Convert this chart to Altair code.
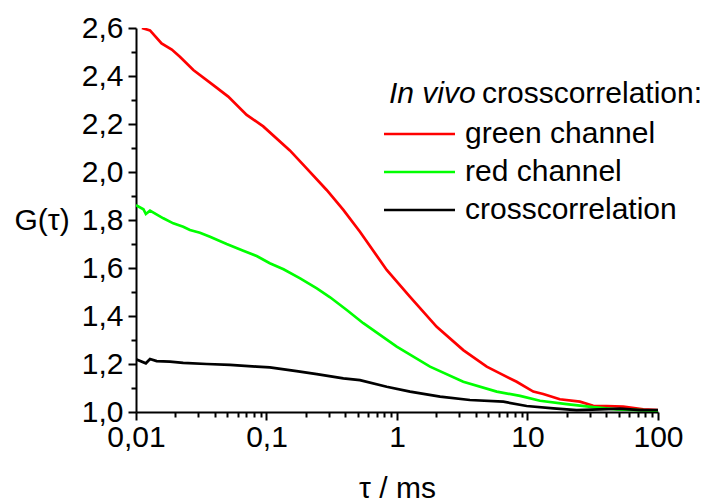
import altair as alt
import pandas as pd

# ---- data (tau in ms, G(tau)) ----
green_ch_tau = [0.0111, 0.0128, 0.0157, 0.0188, 0.0217, 0.0275, 0.0391, 0.0509, 0.0705, 0.0944,
                0.151, 0.203, 0.289, 0.388, 0.520, 0.834, 1.259, 2.015, 3.22, 4.87, 6.15,
                8.26, 11.07, 13.2, 17.7, 25.2, 31.9, 40.4, 54.2, 77.1, 100.0]
green_ch_g = [2.600, 2.590, 2.536, 2.510, 2.480, 2.425, 2.362, 2.314, 2.238, 2.190,
              2.090, 2.015, 1.925, 1.842, 1.751, 1.592, 1.480, 1.355, 1.258, 1.189, 1.161,
              1.126, 1.085, 1.075, 1.053, 1.043, 1.026, 1.025, 1.022, 1.011, 1.008]

red_ch_tau = [0.0100, 0.0114, 0.0119, 0.0128, 0.0162, 0.0193, 0.0230, 0.0259, 0.0309, 0.0369,
              0.0495, 0.0664, 0.0841, 0.106, 0.135, 0.181, 0.243, 0.307, 0.412, 0.552,
              0.995, 1.79, 3.22, 5.81, 8.77, 12.47, 19.95, 31.9, 48.2, 72.8, 100.0]
red_ch_g = [1.862, 1.845, 1.825, 1.839, 1.807, 1.786, 1.772, 1.758, 1.747, 1.730,
            1.700, 1.672, 1.650, 1.620, 1.595, 1.557, 1.515, 1.478, 1.425, 1.370,
            1.272, 1.189, 1.126, 1.085, 1.067, 1.047, 1.033, 1.020, 1.011, 1.008, 1.005]

cross_tau = [0.0100, 0.0119, 0.0128, 0.0144, 0.0182, 0.0230, 0.0348, 0.0525, 0.0841, 0.106,
             0.170, 0.243, 0.388, 0.520, 0.834, 1.259, 2.14, 3.62, 6.53, 9.86,
             15.8, 23.8, 35.9, 51.2, 72.8, 100.0]
cross_g = [1.220, 1.203, 1.221, 1.212, 1.210, 1.205, 1.200, 1.196, 1.189, 1.186,
           1.170, 1.158, 1.140, 1.133, 1.105, 1.085, 1.064, 1.050, 1.043, 1.025,
           1.015, 1.008, 1.011, 1.014, 1.008, 1.008]

series_names = ["green channel", "red channel", "crosscorrelation"]
series_colors = ["#ff0000", "#00ff00", "#000000"]

x_tick_values = [m * 10.0 ** e for e in range(-2, 2) for m in range(1, 10)] + [100.0]
y_tick_values = [round(1.0 + 0.1 * i, 1) for i in range(17)]

rows = []
for name, taus, gs in zip(series_names, [green_ch_tau, red_ch_tau, cross_tau],
                          [green_ch_g, red_ch_g, cross_g]):
    for i, (t, g) in enumerate(zip(taus, gs)):
        rows.append({"series": name, "tau": t, "G": g, "order": i})
df = pd.DataFrame(rows)

FONT = "Liberation Sans"
FS = 30

x_major = "abs(log(datum.value)/LN10 - round(log(datum.value)/LN10)) < 1e-6"
y_major = "abs(datum.value*5 - round(datum.value*5)) < 1e-6"

x_axis = alt.Axis(
    values=x_tick_values,
    labelExpr=f"({x_major}) ? replace(format(datum.value, '~g'), '.', ',') : ''",
    tickSize={"condition": {"test": x_major, "value": 8}, "value": 5},
    labelFlush=False, labelOverlap=False, labelPadding=2,
    title="τ / ms", titleFontSize=FS, titleFont=FONT, titleFontWeight="normal",
    titleBaseline="alphabetic", titleY=85, titleColor="black",
    grid=False,
)
y_axis = alt.Axis(
    values=y_tick_values,
    labelExpr=f"({y_major}) ? replace(format(datum.value, '.1f'), '.', ',') : ''",
    tickSize={"condition": {"test": y_major, "value": 8}, "value": 5},
    labelOverlap=False, labelPadding=5,
    title="G(τ)", titleAngle=0, titleAlign="left", titleBaseline="middle",
    titleX=-122, titleY=192, titleFontSize=FS, titleFont=FONT,
    titleFontWeight="normal", titleColor="black",
    grid=False,
)

lines = alt.Chart(df).mark_line(strokeWidth=2.7, clip=True).encode(
    x=alt.X("tau:Q", scale=alt.Scale(type="log", domain=[0.01, 100], nice=False), axis=x_axis),
    y=alt.Y("G:Q", scale=alt.Scale(domain=[1.0, 2.6], nice=False, zero=False), axis=y_axis),
    color=alt.Color(
        "series:N",
        scale=alt.Scale(domain=series_names, range=series_colors),
        legend=alt.Legend(
            title=None, orient="none", legendX=268.5, legendY=91,
            symbolType="M-7.1,0H7.1", symbolSize=100, symbolStrokeWidth=2.7,
            labelFont=FONT, labelFontSize=FS, labelColor="black", labelOffset=30.5,
            labelLimit=0, rowPadding=8,
        ),
    ),
    order="order:Q",
)

title_df = pd.DataFrame({"a": [0]})
t1 = alt.Chart(title_df).mark_text(
    text="In vivo", font=FONT, fontSize=FS, fontStyle="italic", align="left",
    baseline="alphabetic", color="black",
).encode(x=alt.value(253), y=alt.value(75))
t2 = alt.Chart(title_df).mark_text(
    text="crosscorrelation:", font=FONT, fontSize=FS, align="left",
    baseline="alphabetic", color="black",
).encode(x=alt.value(346), y=alt.value(75))

chart = alt.layer(lines, t1, t2).properties(
    width=522, height=384,
    autosize=alt.AutoSizeParams(type="none"),
    padding={"left": 128, "top": 20, "right": 50, "bottom": 91},
).configure_axis(
    domainColor="black", domainWidth=2, tickColor="black", tickWidth=2,
    labelFont=FONT, labelFontSize=FS, labelColor="black",
).configure_view(stroke=None)

chart.save("out.html", embed_options={"renderer": "svg", "actions": False})
